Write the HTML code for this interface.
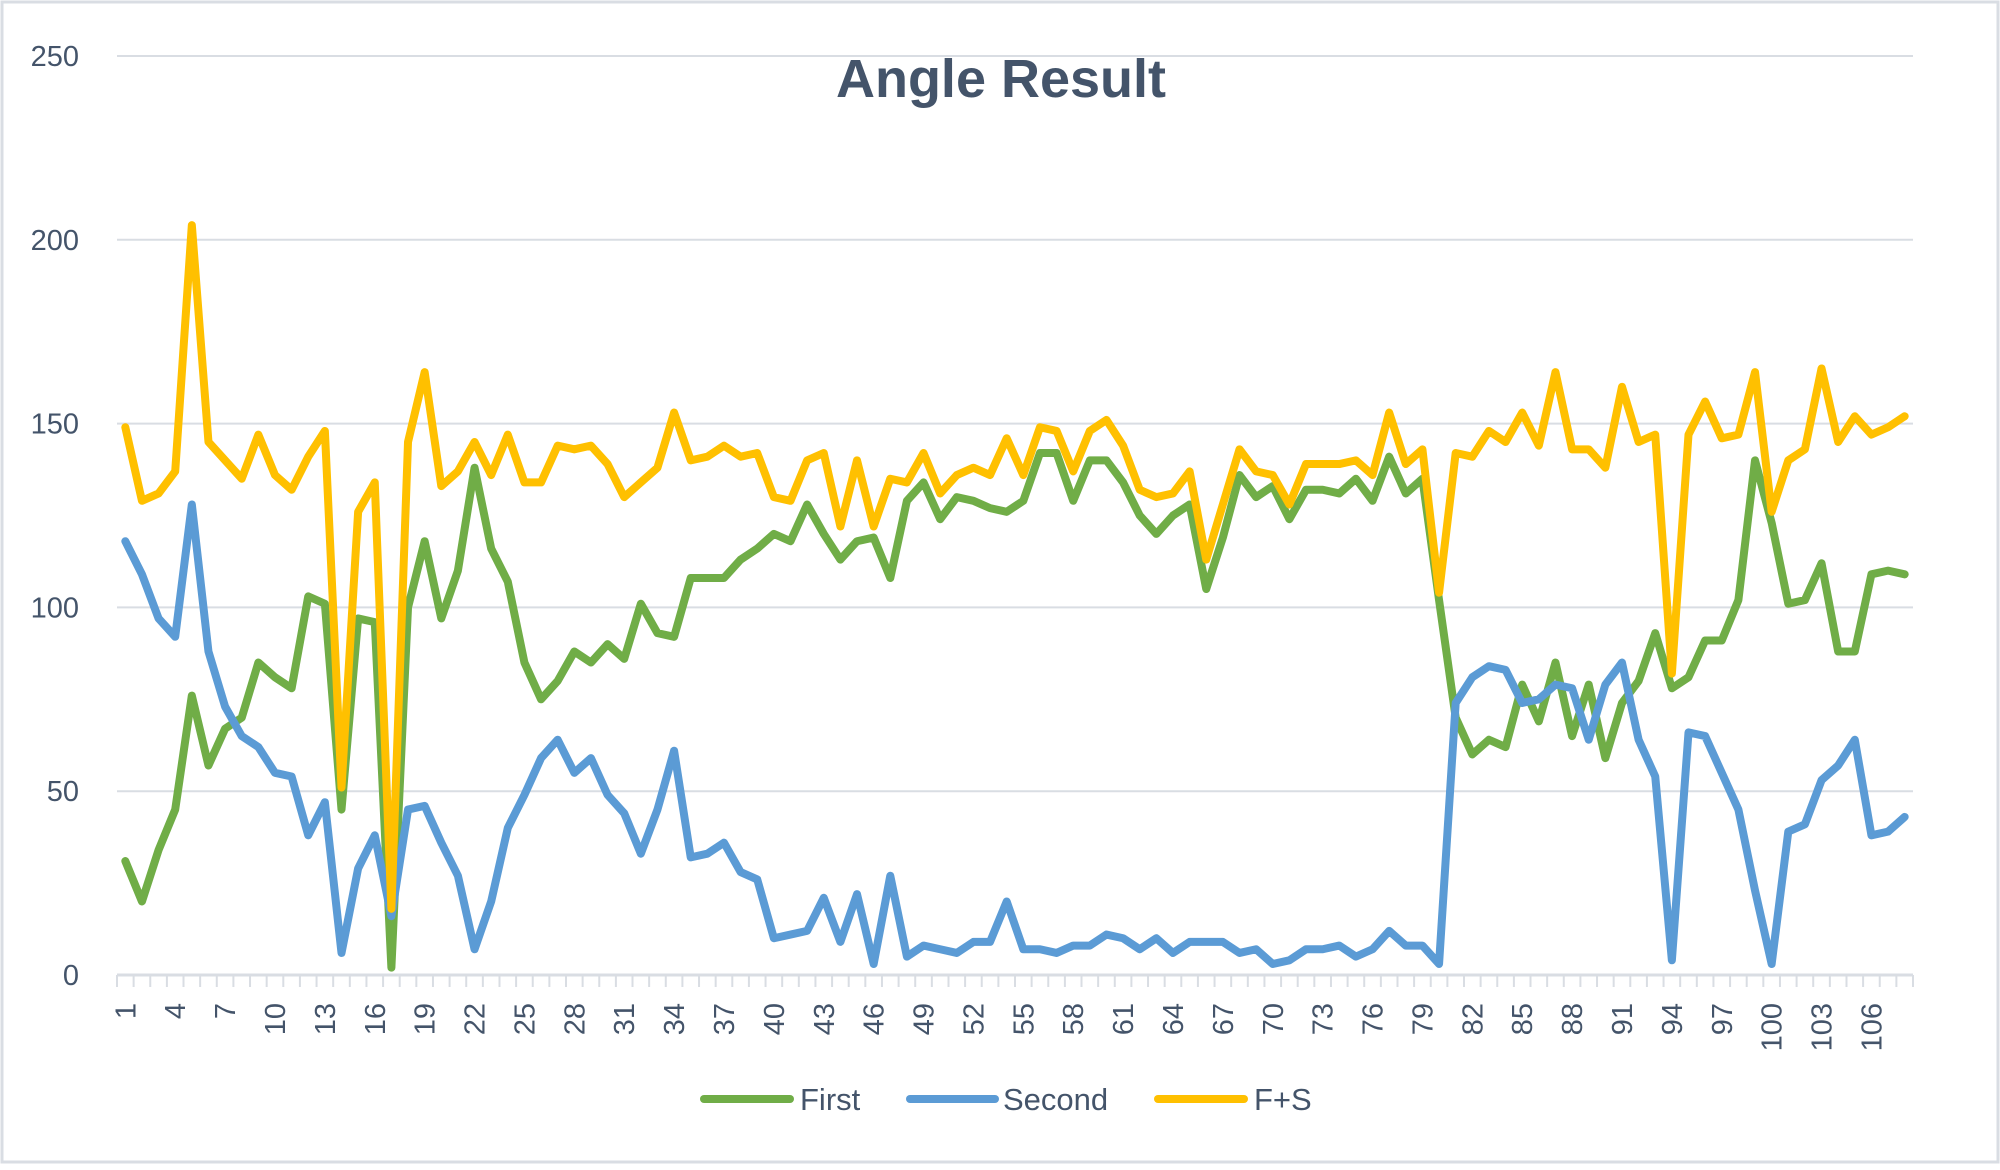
<!DOCTYPE html>
<html><head><meta charset="utf-8"><style>
html,body{margin:0;padding:0;background:#fff;}
svg text{font-family:"Liberation Sans",sans-serif;}
</style></head><body>
<svg id="chart" width="2000" height="1165" viewBox="0 0 2000 1165" xmlns="http://www.w3.org/2000/svg">
<rect x="2" y="2" width="1996" height="1160" fill="#fff" stroke="#d9dde3" stroke-width="3"/>
<text x="1001" y="97" text-anchor="middle" font-size="54" font-weight="bold" fill="#44546a">Angle Result</text>
<g id="grid"></g><g id="yaxis"></g><g id="xaxis"></g><g id="series"></g>
<g>
<g><line x1="704" y1="1099" x2="790" y2="1099" stroke="#70ad47" stroke-width="8" stroke-linecap="round"/><text x="800" y="1110" font-size="31" fill="#44546a">First</text></g>
<g><line x1="910" y1="1099" x2="995" y2="1099" stroke="#5b9bd5" stroke-width="8" stroke-linecap="round"/><text x="1003" y="1110" font-size="31" fill="#44546a">Second</text></g>
<g><line x1="1158" y1="1099" x2="1244" y2="1099" stroke="#ffc000" stroke-width="8" stroke-linecap="round"/><text x="1254" y="1110" font-size="31" fill="#44546a">F+S</text></g>
</g>
</svg>
<script>
const yTicks=[0,50,100,150,200,250];
const first=[31,20,34,45,76,57,67,70,85,81,78,103,101,45,97,96,2,100,118,97,110,138,116,107,85,75,80,88,85,90,86,101,93,92,108,108,108,113,116,120,118,128,120,113,118,119,108,129,134,124,130,129,127,126,129,142,142,129,140,140,134,125,120,125,128,105,119,136,130,133,124,132,132,131,135,129,141,131,135,102,70,60,64,62,79,69,85,65,79,59,74,80,93,78,81,91,91,102,140,123,101,102,112,88,88,109,110,109];
const second=[118,109,97,92,128,88,73,65,62,55,54,38,47,6,29,38,16,45,46,36,27,7,20,40,49,59,64,55,59,49,44,33,45,61,32,33,36,28,26,10,11,12,21,9,22,3,27,5,8,7,6,9,9,20,7,7,6,8,8,11,10,7,10,6,9,9,9,6,7,3,4,7,7,8,5,7,12,8,8,3,74,81,84,83,74,75,79,78,64,79,85,64,54,4,66,65,55,45,23,3,39,41,53,57,64,38,39,43];
const fs=[149,129,131,137,204,145,140,135,147,136,132,141,148,51,126,134,18,145,164,133,137,145,136,147,134,134,144,143,144,139,130,134,138,153,140,141,144,141,142,130,129,140,142,122,140,122,135,134,142,131,136,138,136,146,136,149,148,137,148,151,144,132,130,131,137,113,128,143,137,136,128,139,139,139,140,136,153,139,143,104,142,141,148,145,153,144,164,143,143,138,160,145,147,82,147,156,146,147,164,126,140,143,165,145,152,147,149,152];
const categories=first.map((_,i)=>String(i+1));
const NS="http://www.w3.org/2000/svg";
const X0=117,X1=1913,Y0=975,Y1=56,YMAX=250;
const n=categories.length, step=(X1-X0)/n;
function xs(i){return X0+(i+0.5)*step;}
function ys(v){return Y0-(v/YMAX)*(Y0-Y1);}
function mk(tag,attrs,parent){const e=document.createElementNS(NS,tag);for(const k in attrs)e.setAttribute(k,attrs[k]);parent.appendChild(e);return e;}
const grid=document.getElementById('grid'),yax=document.getElementById('yaxis'),xax=document.getElementById('xaxis'),ser=document.getElementById('series');
yTicks.forEach(t=>{
  if(t>0){const l=mk('line',{x1:X0,x2:X1,y1:ys(t),y2:ys(t),stroke:'#d9dde3','stroke-width':2},grid);
  
  }
  const tx=mk('text',{x:79,y:ys(t)+10,'text-anchor':'end','font-size':29,fill:'#44546a'},yax);
  tx.textContent=t;
  
  
});
const ax=mk('line',{x1:X0,x2:X1,y1:Y0,y2:Y0,stroke:'#d9dde3','stroke-width':3},xax);


for(let i=0;i<=n;i++){const x=X0+i*step;const tk=mk('line',{x1:x,x2:x,y1:Y0,y2:Y0+12,stroke:'#d9dde3','stroke-width':2},xax);
  
  }
categories.forEach((c,i)=>{if(i%3!==0)return;const x=xs(i),y=1003;
  const tx=mk('text',{x:x+10,y:y,'text-anchor':'end','font-size':29,fill:'#44546a',transform:`rotate(-90 ${x+10} ${y})`},xax);
  tx.textContent=c;
  
  });
[[first,'#70ad47','series-first'],[second,'#5b9bd5','series-second'],[fs,'#ffc000','series-fs']].forEach(([d,col,name])=>{
  const p=mk('polyline',{points:d.map((v,i)=>xs(i)+','+ys(v)).join(' '),fill:'none',stroke:col,'stroke-width':8,'stroke-linejoin':'round','stroke-linecap':'round'},ser);
  
  
});
</script>
</body></html>
